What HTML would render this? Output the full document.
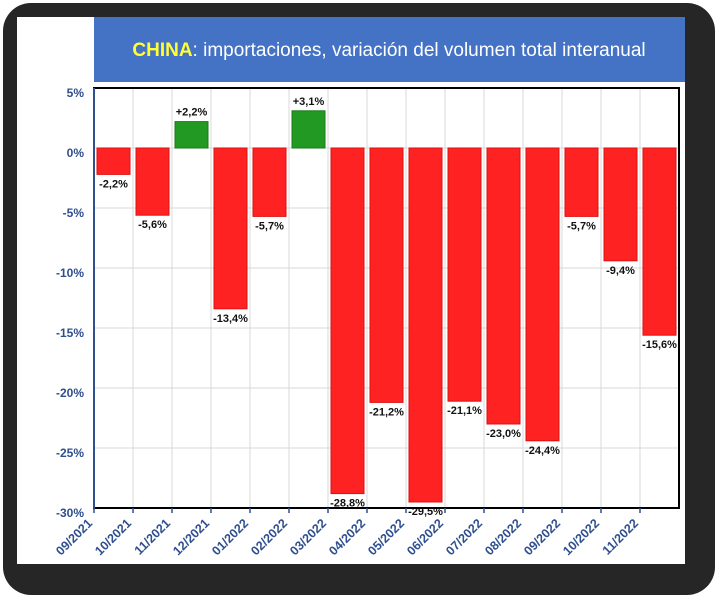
<!DOCTYPE html>
<html><head><meta charset="utf-8"><style>
html,body{margin:0;padding:0;width:721px;height:600px;overflow:hidden;background:#ffffff}
</style></head><body>
<svg width="721" height="600" xmlns="http://www.w3.org/2000/svg">
<rect x="0" y="0" width="721" height="600" fill="#ffffff"/>
<rect x="3" y="3" width="712" height="592" rx="28" fill="#262626"/>
<rect x="17" y="17" width="668" height="547" fill="#ffffff"/>
<rect x="94" y="17" width="591" height="65" fill="#4472c4"/>
<text x="389" y="56" text-anchor="middle" font-family="Liberation Sans, sans-serif" font-size="19" fill="#ffffff"><tspan fill="#ffff33" font-weight="bold">CHINA</tspan>: importaciones, variación del volumen total interanual</text>
<g id="grid"></g>
<g id="bars"></g>
<rect x="94" y="88" width="585" height="420" fill="none" stroke="#000" stroke-width="2"/>
<line x1="94" y1="88" x2="94" y2="508" stroke="#2f4f8f" stroke-width="2"/>
<g id="axes"></g>
</svg>
<script>
const categories=["09/2021","10/2021","11/2021","12/2021","01/2022","02/2022","03/2022","04/2022","05/2022","06/2022","07/2022","08/2022","09/2022","10/2022","11/2022"];
const values=[-2.2,-5.6,2.2,-13.4,-5.7,3.1,-28.8,-21.2,-29.5,-21.1,-23.0,-24.4,-5.7,-9.4,-15.6];
const yTicks=[5,0,-5,-10,-15,-20,-25,-30];
const NS="http://www.w3.org/2000/svg";
const L=94,R=679,T=88,B=508,yMax=5,yMin=-30;
const bw=(R-L)/categories.length;
function y(v){return T+(yMax-v)/(yMax-yMin)*(B-T);}
function x(i){return L+i*bw;}
function mk(t,a,p){const e=document.createElementNS(NS,t);for(const k in a)e.setAttribute(k,a[k]);p.appendChild(e);return e;}
const grid=document.getElementById('grid'),bars=document.getElementById('bars'),axes=document.getElementById('axes');
yTicks.forEach(v=>{
 const l=mk('line',{x1:L,x2:R,y1:y(v),y2:y(v),stroke:'#d8d8d8','stroke-width':1},grid);
 
 
 const t=mk('text',{x:L-10,y:y(v)+9,'text-anchor':'end','font-family':'Liberation Sans, sans-serif','font-size':12,'font-weight':'bold',fill:'#2f4f8f'},axes);
 t.textContent=String(v).replace('.',',')+'%';
 
 
});
categories.forEach((c,i)=>{
 const g=mk('line',{x1:x(i),x2:x(i),y1:T,y2:B,stroke:'#d8d8d8','stroke-width':1},grid);
 
 
 const tk=mk('line',{x1:x(i),x2:x(i),y1:B,y2:B+5,stroke:'#2f4f8f','stroke-width':1.5},axes);
 
 
 const lx=x(i)-1,ly=B+16;
 const t=mk('text',{x:lx,y:ly,'text-anchor':'end','font-family':'Liberation Sans, sans-serif','font-size':12.5,'font-weight':'bold',fill:'#2f4f8f',transform:`rotate(-45 ${lx} ${ly})`},axes);
 t.textContent=c;
 
 
 const v=values[i];
 const top=v>=0?y(v):y(0),h=Math.abs(y(v)-y(0));
 const bx=x(i)+3,w=bw-6;
 const r=mk('rect',{x:bx,y:top,width:w,height:h,fill:v>=0?'#229922':'#ff2222',stroke:v>=0?'#1a7a1a':'#dd1111','stroke-width':1},bars);
 
 
 const txt=(v>0?'+':'')+v.toFixed(1).replace('.',',')+'%';
 const ty=v>=0?y(v)-6:y(v)+13;
 const lt=mk('text',{x:bx+w/2,y:ty,'text-anchor':'middle','font-family':'Liberation Sans, sans-serif','font-size':11,'font-weight':'bold',fill:'#111'},bars);
 lt.textContent=txt;
 
 
});
</script>
</body></html>
